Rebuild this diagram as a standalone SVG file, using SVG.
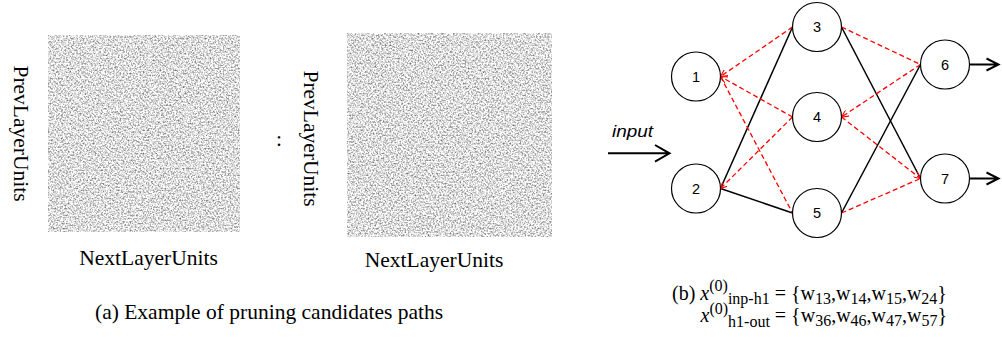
<svg xmlns="http://www.w3.org/2000/svg" width="1002" height="337" viewBox="0 0 1002 337">
<style>
  .serif { font-family: "Liberation Serif", "Times New Roman", serif; fill: #000; }
  .lbl { font-size: 21.5px; }
  .node circle { fill: #fff; stroke: #000; stroke-width: 1.2; }
  .node text { font-family: "Liberation Sans", Arial, sans-serif; font-size: 14.5px; text-anchor: middle; fill: #000; }
  .solid { stroke: #000; stroke-width: 1.5; fill: none; }
  .cut { stroke: #ff0000; stroke-width: 1.3; stroke-dasharray: 5 3; fill: none; }
  .io { stroke: #000; stroke-width: 2; fill: none; }
  .f { font-family: "Liberation Serif", "Times New Roman", serif; font-size: 20px; fill: #000; }
  .s { font-size: 16px; }
</style>
<defs>
  <filter id="noise" x="0" y="0" width="1" height="1" color-interpolation-filters="sRGB">
    <feTurbulence type="fractalNoise" baseFrequency="0.6" numOctaves="2" seed="7" result="t"/>
    <feColorMatrix in="t" type="matrix" values="1 0 0 0 0  1 0 0 0 0  1 0 0 0 0  0 0 0 0 1" result="g"/>
    <feComponentTransfer in="g" result="c">
      <feFuncR type="linear" slope="1.2" intercept="0.27"/>
      <feFuncG type="linear" slope="1.2" intercept="0.27"/>
      <feFuncB type="linear" slope="1.2" intercept="0.27"/>
    </feComponentTransfer>
    <feGaussianBlur in="c" stdDeviation="0.35"/>
  </filter>
  <marker id="ah" viewBox="0 0 10 10" refX="10" refY="5" markerWidth="7" markerHeight="7" markerUnits="userSpaceOnUse" orient="auto">
    <path d="M0,0 L10,5 L0,10" fill="none" stroke="#ff0000" stroke-width="1.6"/>
  </marker>
</defs>

<!-- (a) panel -->
<g id="matrix1">
  <rect x="48" y="35" width="192" height="197" fill="#ddd" filter="url(#noise)"/>
</g>
<g id="matrix2">
  <rect x="347" y="33" width="205" height="204" fill="#ddd" filter="url(#noise)"/>
</g>
<text class="serif lbl" transform="translate(14,133.5) rotate(90)" text-anchor="middle">PrevLayerUnits</text>
<text class="serif lbl" transform="translate(304,138.5) rotate(90)" text-anchor="middle">PrevLayerUnits</text>
<text class="serif lbl" x="276" y="146">:</text>
<text class="serif lbl" x="148.5" y="265" text-anchor="middle">NextLayerUnits</text>
<text class="serif lbl" x="434" y="267" text-anchor="middle">NextLayerUnits</text>
<text class="serif lbl" x="95" y="319">(a) Example of pruning candidates paths</text>

<!-- (b) panel connectors -->
<g id="connectors">
  <line class="solid" x1="720.5" y1="188.5" x2="792.5" y2="27"/>
  <line class="solid" x1="720.5" y1="188.5" x2="792.5" y2="213"/>
  <line class="solid" x1="841.5" y1="27" x2="920.5" y2="178.5"/>
  <line class="solid" x1="841.5" y1="213" x2="920.5" y2="64.5"/>
  <line class="cut" x1="792.5" y1="27" x2="720.5" y2="76.5" marker-end="url(#ah)"/>
  <line class="cut" x1="792.5" y1="117" x2="720.5" y2="76.5" marker-end="url(#ah)"/>
  <line class="cut" x1="720.5" y1="76.5" x2="792.5" y2="213"/>
  <line class="cut" x1="792.5" y1="117" x2="720.5" y2="188.5" marker-end="url(#ah)"/>
  <line class="cut" x1="841.5" y1="27" x2="920.5" y2="64.5"/>
  <line class="cut" x1="920.5" y1="64.5" x2="841.5" y2="117" marker-end="url(#ah)"/>
  <line class="cut" x1="841.5" y1="117" x2="920.5" y2="178.5" marker-end="url(#ah)"/>
  <line class="cut" x1="841.5" y1="213" x2="920.5" y2="178.5"/>
  <!-- input / output arrows -->
  <path class="io" d="M608,153.3 H669 M655,145 L669.5,153.3 L655,161.6"/>
  <path class="io" d="M969.5,64.5 H998 M986.5,58.5 L998.5,64.5 L986.5,70.5"/>
  <path class="io" d="M969.5,178.5 H998 M986.5,172.5 L998.5,178.5 L986.5,184.5"/>
</g>
<text x="612" y="137" font-family="Liberation Sans, Arial, sans-serif" font-style="italic" font-size="16.5" textLength="41" lengthAdjust="spacingAndGlyphs" fill="#000">input</text>

<g id="n1" class="node"><circle cx="696" cy="76.5" r="24.5"/><text x="696" y="81.5">1</text></g>
<g id="n2" class="node"><circle cx="696" cy="188.5" r="24.5"/><text x="696" y="193.5">2</text></g>
<g id="n3" class="node"><circle cx="817" cy="27" r="24.5"/><text x="817" y="32">3</text></g>
<g id="n4" class="node"><circle cx="817" cy="117" r="24.5"/><text x="817" y="122">4</text></g>
<g id="n5" class="node"><circle cx="817" cy="213" r="24.5"/><text x="817" y="218">5</text></g>
<g id="n6" class="node"><circle cx="945" cy="64.5" r="24.5"/><text x="945" y="69.5">6</text></g>
<g id="n7" class="node"><circle cx="945" cy="178.5" r="24.5"/><text x="945" y="183.5">7</text></g>

<!-- (b) formula -->
<text class="f" x="672" y="299.5">(b) <tspan font-style="italic">x</tspan><tspan class="s" dy="-8.5">(0)</tspan><tspan class="s" dy="13">inp-h1</tspan><tspan dy="-4.5"> = {w</tspan><tspan class="s" dy="4">13</tspan><tspan dy="-4">,w</tspan><tspan class="s" dy="4">14</tspan><tspan dy="-4">,w</tspan><tspan class="s" dy="4">15</tspan><tspan dy="-4">,w</tspan><tspan class="s" dy="4">24</tspan><tspan dy="-4">}</tspan></text>
<text class="f" x="700.5" y="322"><tspan font-style="italic">x</tspan><tspan class="s" dy="-8.5">(0)</tspan><tspan class="s" dy="13">h1-out</tspan><tspan dy="-4.5"> = {w</tspan><tspan class="s" dy="4">36</tspan><tspan dy="-4">,w</tspan><tspan class="s" dy="4">46</tspan><tspan dy="-4">,w</tspan><tspan class="s" dy="4">47</tspan><tspan dy="-4">,w</tspan><tspan class="s" dy="4">57</tspan><tspan dy="-4">}</tspan></text>
</svg>
